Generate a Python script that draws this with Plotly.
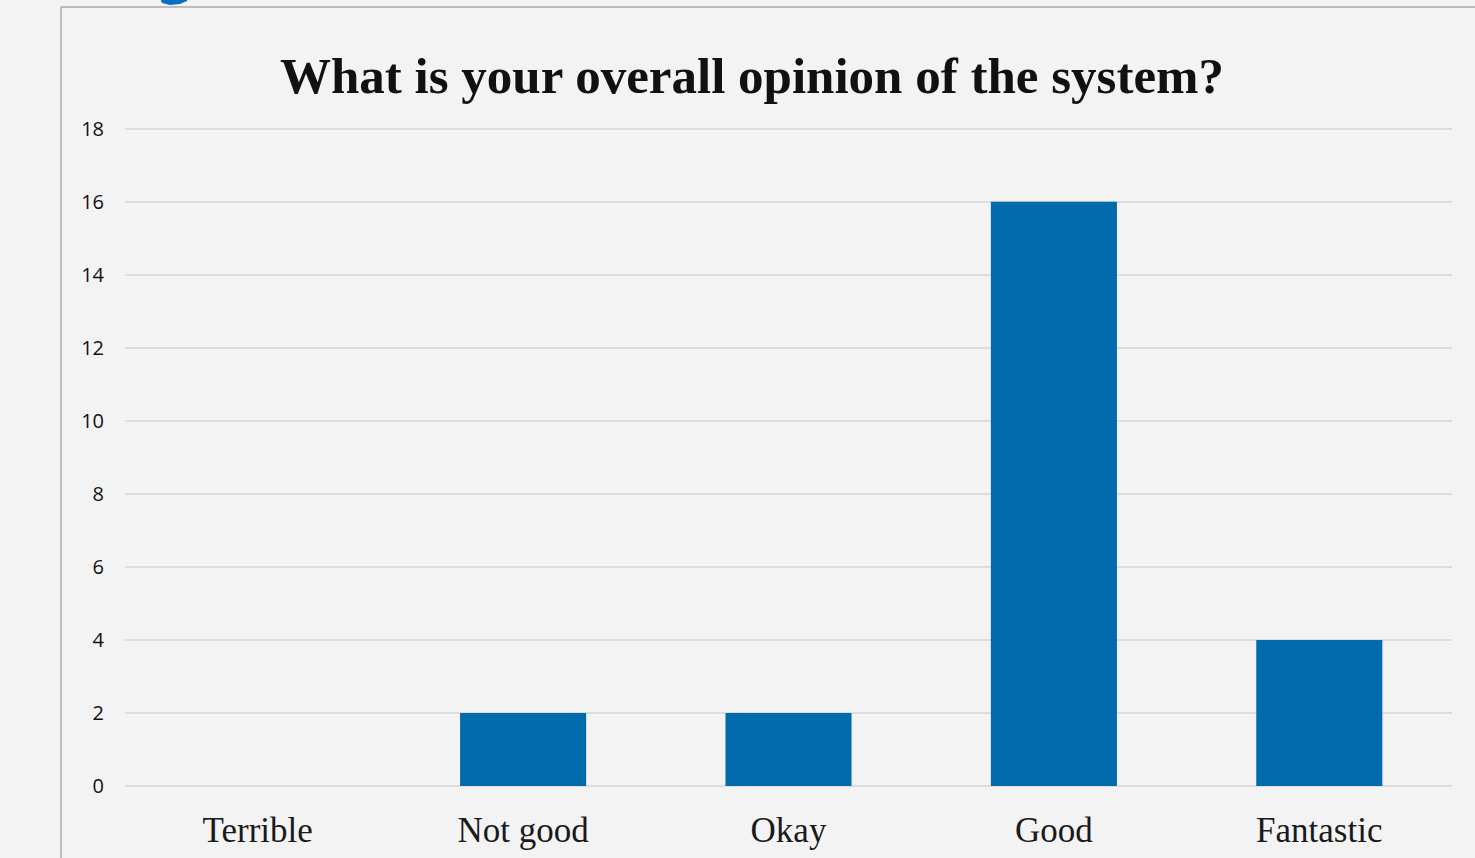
import plotly.graph_objects as go

categories = ["Terrible", "Not good", "Okay", "Good", "Fantastic"]
counts = [0, 2, 2, 16, 4]
y_ticks = [0, 2, 4, 6, 8, 10, 12, 14, 16, 18]
title_text = "What is your overall opinion of the system?"

W, H = 1475, 858
L, R, T, B = 125, 23, 125, 72
pw, ph = W - L - R, H - T - B

fig = go.Figure(go.Bar(
    x=categories, y=counts,
    marker=dict(color="#006AAB", line=dict(width=0)),
))

def px_x(p):
    return (p - L) / pw

def px_y(p):
    return 1 - (p - T) / ph

border = "#BDBDBD"
fig.add_shape(type="line", xref="paper", yref="paper",
              x0=px_x(61), x1=px_x(61), y0=px_y(7), y1=px_y(H + 5),
              line=dict(color=border, width=2))
fig.add_shape(type="line", xref="paper", yref="paper",
              x0=px_x(61), x1=px_x(W + 5), y0=px_y(7), y1=px_y(7),
              line=dict(color=border, width=2))
# clipped fragment of blue text above the chart frame
frag = [(160, -2), (187, -2), (187, 1), (180, 4), (170, 5), (162, 3)]
path = "M " + " L ".join(f"{px_x(a)},{px_y(b)}" for a, b in frag) + " Z"
fig.add_shape(type="path", xref="paper", yref="paper", path=path,
              fillcolor="#0A6FC2", line=dict(width=0))

fig.update_layout(
    width=W, height=H,
    margin=dict(l=L, r=R, t=T, b=B),
    paper_bgcolor="#F3F3F3", plot_bgcolor="#F3F3F3",
    bargap=0.525,
    showlegend=False,
    title=dict(text=title_text, x=752 / W, xanchor="center", xref="container",
               y=1 - 75 / H, yanchor="middle", yref="container",
               font=dict(family="Liberation Serif", size=51, color="#111111", weight="bold"),
               automargin=False),
    xaxis=dict(showgrid=False, showline=False, ticks="", automargin=False,
               tickfont=dict(family="Liberation Serif", size=35, color="#1A1A1A"),
               ticklabelstandoff=20),
    yaxis=dict(range=[0, 18.1], tickvals=y_ticks, showgrid=True, gridcolor="#DCDCDC", gridwidth=1.5,
               zeroline=True, zerolinecolor="#DCDCDC", zerolinewidth=1.5, showline=False, ticks="",
               automargin=False,
               tickfont=dict(family="Open Sans", size=20, color="#111111"),
               ticklabelstandoff=20),
)

fig.write_html("out.html", config={"displayModeBar": False},
               post_script="document.body.style.margin='0';")
